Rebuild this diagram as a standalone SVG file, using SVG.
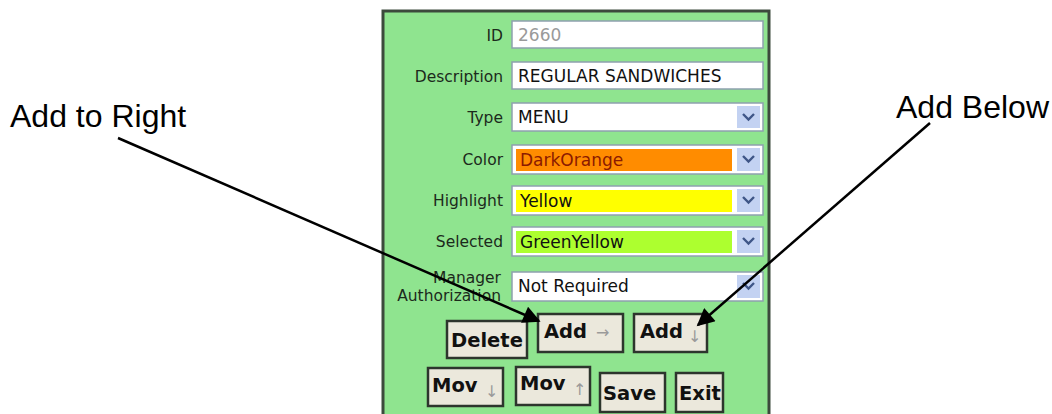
<svg xmlns="http://www.w3.org/2000/svg" width="1052" height="414" viewBox="0 0 1052 414">
<defs>
<style>
.lbl{font-family:"DejaVu Sans",sans-serif;font-size:15.5px;fill:#1c2a1c;text-anchor:end}
.val{font-family:"DejaVu Sans",sans-serif;font-size:17px;fill:#111}
.fld{fill:#ffffff;stroke:#8ea0ae;stroke-width:1.5}
.dd{fill:#c3d2f2}
.chev{fill:none;stroke:#3f5687;stroke-width:2.4}
.btn{fill:#ebe8dc;stroke:#2d352d;stroke-width:2.5}
.bt{font-family:"DejaVu Sans",sans-serif;font-weight:bold;font-size:19.5px;fill:#111}
.ar{font-family:"DejaVu Sans",sans-serif;font-size:16px;fill:#9a9a9a}
.call{font-family:"Liberation Sans",Arial,sans-serif;font-size:32px;fill:#000}
.conn{stroke:#000;stroke-width:2.5;fill:none}
</style>
<marker id="ah" viewBox="0 0 10 10" refX="9" refY="5" markerWidth="9" markerHeight="7" orient="auto" markerUnits="strokeWidth">
<path d="M0,0 L10,5 L0,10 z" fill="#000"/>
</marker>
</defs>
<rect width="1052" height="414" fill="#ffffff"/>
<g id="panel">
<rect x="383" y="11" width="386" height="410" fill="#8fe48f" stroke="#3c4a3c" stroke-width="3"/>
</g>
<g id="row-id">
<text class="lbl" x="503" y="41">ID</text>
<rect class="fld" x="512" y="21" width="251" height="27"/>
<text class="val" x="518" y="41" style="fill:#9a9a9a">2660</text>
</g>
<g id="row-description">
<text class="lbl" x="503" y="82">Description</text>
<rect class="fld" x="512" y="62" width="251" height="27"/>
<text class="val" x="518" y="82">REGULAR SANDWICHES</text>
</g>
<g id="row-type">
<text class="lbl" x="503" y="123">Type</text>
<rect class="fld" x="512" y="103" width="251" height="28"/>
<text class="val" x="518" y="123">MENU</text>
<rect class="dd" x="737" y="106" width="23" height="22"/>
<path class="chev" d="M743,114 L748.5,119.5 L754,114"/>
</g>
<g id="row-color">
<text class="lbl" x="503" y="165">Color</text>
<rect class="fld" x="512" y="145" width="251" height="29"/>
<rect x="516" y="149" width="216" height="22" fill="#ff8c00"/>
<text class="val" x="520" y="166" style="fill:#8b1a00">DarkOrange</text>
<rect class="dd" x="737" y="148" width="23" height="23"/>
<path class="chev" d="M743,156 L748.5,161.5 L754,156"/>
</g>
<g id="row-highlight">
<text class="lbl" x="503" y="206">Highlight</text>
<rect class="fld" x="512" y="186" width="251" height="29"/>
<rect x="516" y="190" width="216" height="22" fill="#ffff00"/>
<text class="val" x="520" y="207">Yellow</text>
<rect class="dd" x="737" y="189" width="23" height="23"/>
<path class="chev" d="M743,197 L748.5,202.5 L754,197"/>
</g>
<g id="row-selected">
<text class="lbl" x="503" y="247">Selected</text>
<rect class="fld" x="512" y="227" width="251" height="29"/>
<rect x="516" y="231" width="216" height="22" fill="#adff2f"/>
<text class="val" x="520" y="248">GreenYellow</text>
<rect class="dd" x="737" y="230" width="23" height="23"/>
<path class="chev" d="M743,238 L748.5,243.5 L754,238"/>
</g>
<g id="row-manager">
<text class="lbl" x="501" y="283">Manager</text>
<text class="lbl" x="501" y="301">Authorization</text>
<rect class="fld" x="512" y="272" width="251" height="29"/>
<text class="val" x="518" y="292">Not Required</text>
<rect class="dd" x="737" y="275" width="23" height="23"/>
<path class="chev" d="M743,283 L748.5,288.5 L754,283"/>
</g>
<g id="btn-delete">
<rect class="btn" x="447" y="321" width="80" height="37"/>
<text class="bt" x="451" y="347">Delete</text>
</g>
<g id="btn-add-right">
<rect class="btn" x="538" y="314" width="85" height="38"/>
<text class="bt" x="544" y="338">Add</text>
<text class="ar" x="596" y="338">→</text>
</g>
<g id="btn-add-below">
<rect class="btn" x="634" y="314" width="73" height="38"/>
<text class="bt" x="640" y="338">Add</text>
<text class="ar" x="688" y="342">↓</text>
</g>
<g id="btn-mov-down">
<rect class="btn" x="428" y="368" width="75" height="38"/>
<text class="bt" x="432" y="392">Mov</text>
<text class="ar" x="485" y="397">↓</text>
</g>
<g id="btn-mov-up">
<rect class="btn" x="516" y="367" width="74" height="38"/>
<text class="bt" x="520" y="390">Mov</text>
<text class="ar" x="573" y="395">↑</text>
</g>
<g id="btn-save">
<rect class="btn" x="600" y="373" width="65" height="39"/>
<text class="bt" x="603" y="400">Save</text>
</g>
<g id="btn-exit">
<rect class="btn" x="676" y="373" width="47" height="39"/>
<text class="bt" x="679" y="400">Exit</text>
</g>
<g id="callout-add-right">
<text class="call" x="10" y="127">Add to Right</text>
</g>
<g id="callout-add-below">
<text class="call" x="896" y="118">Add Below</text>
</g>
<g id="connectors">
<line class="conn" x1="118" y1="138" x2="539" y2="321" marker-end="url(#ah)"/>
<line class="conn" x1="930" y1="123" x2="698" y2="325" marker-end="url(#ah)"/>
</g>
</svg>
